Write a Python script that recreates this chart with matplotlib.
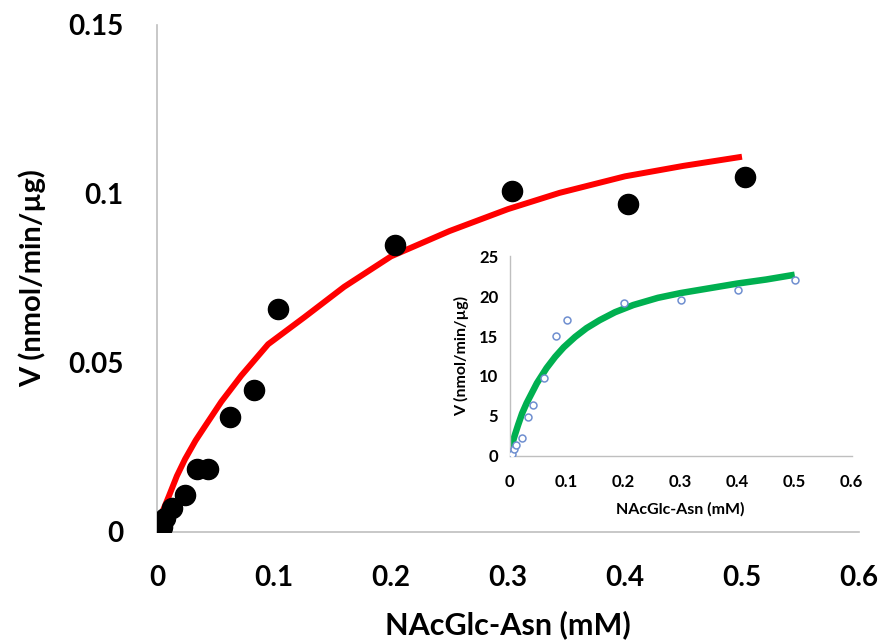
import matplotlib
matplotlib.use("Agg")
import matplotlib.pyplot as plt

plt.rcParams['font.family'] = ['Lato', 'DejaVu Sans']
plt.rcParams['font.weight'] = 'bold'

# main plot: measured points and fitted curve
conc = [0.004, 0.007, 0.013, 0.024, 0.034, 0.044, 0.062, 0.083, 0.103, 0.203, 0.303, 0.403, 0.503]
rate = [0.0015, 0.004, 0.007, 0.011, 0.0185, 0.0185, 0.034, 0.042, 0.066, 0.085, 0.101, 0.097, 0.105]
fit_x = [0.003, 0.01, 0.017, 0.024, 0.033, 0.041, 0.055, 0.072, 0.095, 0.126, 0.16, 0.2,
         0.25, 0.3, 0.344, 0.4, 0.45, 0.5]
fit_y = [0.0045, 0.0104, 0.0165, 0.0215, 0.027, 0.0312, 0.0385, 0.0462, 0.0555, 0.0635, 0.0725, 0.0815,
         0.089, 0.0955, 0.1003, 0.1052, 0.1083, 0.111]

# inset plot
conc_in = [0.004, 0.007, 0.011, 0.022, 0.033, 0.042, 0.061, 0.081, 0.101, 0.2, 0.3, 0.4, 0.5]
rate_in = [0.2, 0.8, 1.4, 2.2, 4.8, 6.4, 9.7, 15.0, 17.0, 19.1, 19.5, 20.8, 22.0]
fit_x_in = [0.001, 0.008, 0.015, 0.022, 0.03, 0.048, 0.065, 0.08, 0.095, 0.115, 0.135, 0.158,
            0.185, 0.217, 0.26, 0.3, 0.35, 0.4, 0.45, 0.5]
fit_y_in = [0.5, 2.3, 3.85, 5.3, 6.6, 9.1, 11.0, 12.4, 13.6, 14.9, 16.0, 17.0,
            18.0, 18.9, 19.8, 20.4, 21.0, 21.6, 22.1, 22.7]

xticks = [0, 0.1, 0.2, 0.3, 0.4, 0.5, 0.6]
xlabels = ['0', '0.1', '0.2', '0.3', '0.4', '0.5', '0.6']
yticks = [0, 0.05, 0.1, 0.15]
ylabels = ['0', '0.05', '0.1', '0.15']
yticks_in = [0, 5, 10, 15, 20, 25]

axis_grey = '#bfbfbf'

fig = plt.figure(figsize=(8.84, 6.41), dpi=100)

ax = fig.add_axes([0.1776, 0.1705, 0.7941, 0.7905])
ax.plot(fit_x, fit_y, color='#ff0000', lw=4.3, solid_capstyle='butt', zorder=2)
ax.plot(conc, rate, 'o', color='black', ms=14.5, zorder=3)
ax.set_xlim(0, 0.6)
ax.set_ylim(0, 0.15)
ax.set_xticks(xticks)
ax.set_xticklabels(xlabels)
ax.set_yticks(yticks)
ax.set_yticklabels(ylabels)
ax.tick_params(length=0, labelsize=20, pad=24)
for s in ['top', 'right']:
    ax.spines[s].set_visible(False)
for s in ['left', 'bottom']:
    ax.spines[s].set_color(axis_grey)
    ax.spines[s].set_linewidth(1.2)
ax.set_xlabel('NAcGlc-Asn (mM)', fontsize=22, fontweight='bold', labelpad=14)
ax.set_ylabel('V (nmol/min/µg)', fontsize=21, fontweight='bold', labelpad=16)

ins = fig.add_axes([0.5764, 0.2891, 0.3871, 0.3109])
ins.plot(fit_x_in, fit_y_in, color='#00b050', lw=4.7, solid_capstyle='butt', zorder=2)
ins.plot(conc_in, rate_in, 'o', mfc='white', mec='#6f8fd0', mew=1.1, ms=5, zorder=3)
ins.set_xlim(0, 0.6)
ins.set_ylim(0, 25)
ins.set_xticks(xticks)
ins.set_xticklabels(xlabels)
ins.set_yticks(yticks_in)
ins.tick_params(length=0, labelsize=12, pad=8)
ins.tick_params(axis='x', pad=13)
ins.patch.set_alpha(0)
for s in ['top', 'right']:
    ins.spines[s].set_visible(False)
for s in ['left', 'bottom']:
    ins.spines[s].set_color(axis_grey)
    ins.spines[s].set_linewidth(1.0)
ins.set_xlabel('NAcGlc-Asn (mM)', fontsize=11.5, fontweight='bold', labelpad=9)
ins.set_ylabel('V (nmol/min/µg)', fontsize=11.5, fontweight='bold', labelpad=7)

fig.savefig('out.png', dpi=100)
